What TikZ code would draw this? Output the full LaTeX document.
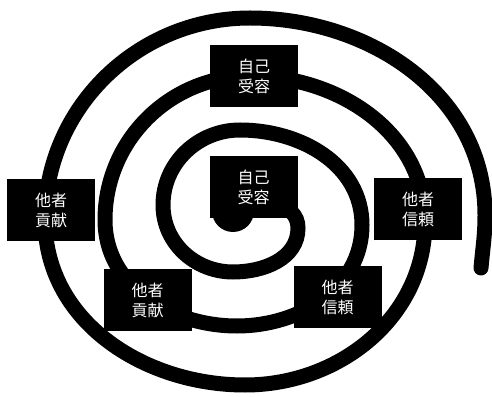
\documentclass[tikz,border=0pt]{standalone}
\usepackage{fontspec}
\newfontfamily\cjk{Noto Sans CJK JP}
\usepackage{tikz}
\usetikzlibrary{positioning}

\begin{document}
\begin{tikzpicture}[
    x=1pt, y=1pt,
    stage/.style={rectangle, fill=black, text=white, minimum width=88pt, minimum height=62pt,
      inner sep=0pt, align=center, font=\cjk\fontsize{16}{20}\selectfont},
    coil/.style={line width=15pt, line cap=round, draw=black}
  ]
  \useasboundingbox (0,0) rectangle (492,396);

  % Spiral, from the centre outwards
  \fill (233,185) circle (21);
  \draw[coil] (233,192)
    to[out=10,in=90] (298,168)
    to[out=-90,in=0] (233,124)
    to[out=180,in=-90] (163,191)
    to[out=90,in=180] (240,266)
    to[out=0,in=90] (362,171)
    to[out=-90,in=0] (237,70)
    to[out=180,in=-90] (105,176)
    to[out=90,in=180] (250,320)
    to[out=0,in=90] (425,174)
    to[out=-90,in=0] (245,11)
    to[out=180,in=-90] (45,176)
    to[out=90,in=180] (250,378)
    to[out=0,in=90] (485,181)
    to[out=-90,in=85] (481,128);

  % Stages
  \node[stage] (accept1) at (253.5,208.5) {自己\\受容};
  \node[stage] (trust1) at (337.5,98.5) {他者\\信頼};
  \node[stage] (contrib1) at (147.5,96) {他者\\貢献};
  \node[stage] (accept2) at (254,319.5) {自己\\受容};
  \node[stage] (trust2) at (418,187) {他者\\信頼};
  \node[stage] (contrib2) at (51,186) {他者\\貢献};

\end{tikzpicture}
\end{document}
